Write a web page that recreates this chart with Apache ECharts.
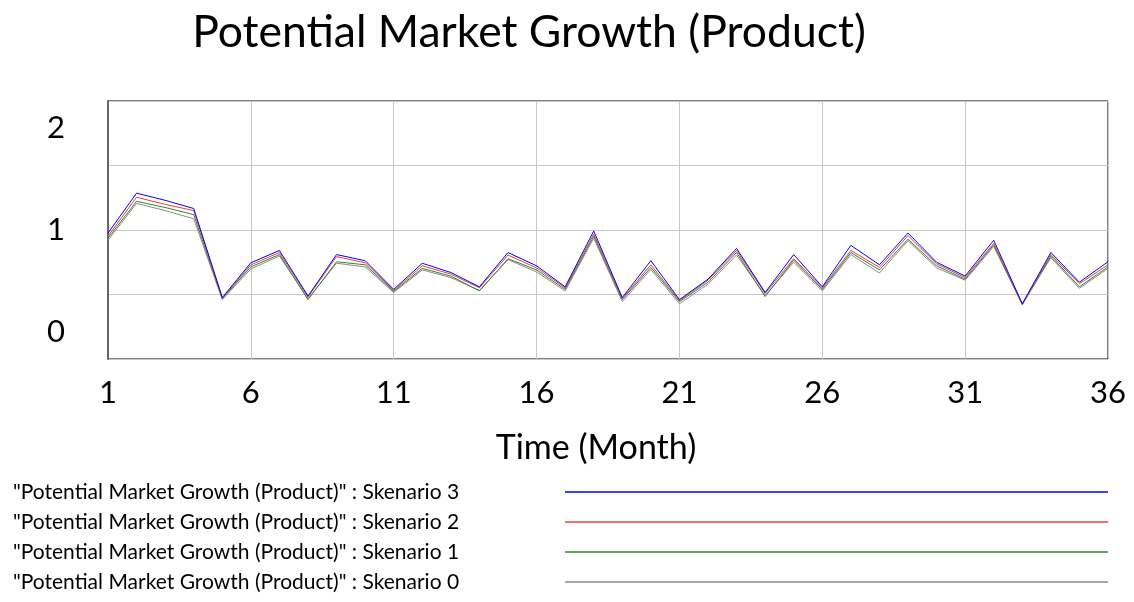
<!DOCTYPE html>
<html>
<head>
<meta charset="UTF-8">
<title>Potential Market Growth (Product)</title>
<script src="https://cdn.jsdelivr.net/npm/echarts@6/dist/echarts.min.js"></script>
<style>
  html, body { margin: 0; padding: 0; background: #fff; }
  #main { width: 1134px; height: 602px; }
</style>
</head>
<body>
<div id="main"></div>
<script>
// months 1..36
const months = Array.from({ length: 36 }, (_, i) => i + 1);

// values
const skenario3 = [0.97, 1.36, 1.29, 1.21, 0.34, 0.68, 0.80, 0.355, 0.76, 0.70, 0.42, 0.675, 0.585, 0.445, 0.78, 0.65, 0.445, 0.99, 0.34, 0.70, 0.32, 0.52, 0.82, 0.39, 0.76, 0.445, 0.85, 0.66, 0.97, 0.685, 0.55, 0.90, 0.28, 0.78, 0.49, 0.69];
const skenario2 = [0.94, 1.32, 1.25, 1.19, 0.335, 0.66, 0.78, 0.345, 0.74, 0.68, 0.41, 0.65, 0.57, 0.435, 0.755, 0.63, 0.435, 0.96, 0.33, 0.66, 0.31, 0.51, 0.80, 0.38, 0.72, 0.435, 0.80, 0.635, 0.945, 0.67, 0.535, 0.87, 0.275, 0.76, 0.475, 0.66];
const skenario1 = [0.92, 1.28, 1.22, 1.15, 0.33, 0.64, 0.76, 0.32, 0.69, 0.66, 0.40, 0.625, 0.55, 0.405, 0.72, 0.61, 0.42, 0.94, 0.32, 0.635, 0.30, 0.49, 0.78, 0.35, 0.705, 0.42, 0.78, 0.61, 0.91, 0.65, 0.52, 0.855, 0.27, 0.745, 0.445, 0.64];
const skenario0 = [0.90, 1.26, 1.19, 1.11, 0.32, 0.62, 0.745, 0.33, 0.675, 0.64, 0.39, 0.61, 0.535, 0.41, 0.71, 0.59, 0.405, 0.92, 0.30, 0.615, 0.28, 0.47, 0.755, 0.36, 0.685, 0.405, 0.76, 0.58, 0.895, 0.63, 0.51, 0.84, 0.275, 0.73, 0.43, 0.625];

const yLabels = [0, 1, 2];
const seriesNames = [
  '"Potential Market Growth (Product)" : Skenario 3',
  '"Potential Market Growth (Product)" : Skenario 2',
  '"Potential Market Growth (Product)" : Skenario 1',
  '"Potential Market Growth (Product)" : Skenario 0'
];

const font = 'Lato, "Open Sans", sans-serif';

function line(name, values, color) {
  return {
    name: name,
    type: 'line',
    symbol: 'none',
    data: months.map((m, i) => [m, values[i]]),
    lineStyle: { color: color, width: 1 },
    itemStyle: { color: color }
  };
}

const chart = echarts.init(document.getElementById('main'), null, { renderer: 'canvas' });
chart.setOption({
  animation: false,
  textStyle: { fontFamily: font },
  title: {
    text: 'Potential Market Growth (Product)',
    left: 524, top: 5, textAlign: 'center',
    textStyle: { fontFamily: font, fontSize: 44.5, fontWeight: 'normal', color: '#000' }
  },
  grid: {
    left: 108, right: 26, top: 101, bottom: 243,
    show: true, borderColor: '#000', borderWidth: 1
  },
  legend: {
    orient: 'vertical',
    left: 8, top: 476,
    align: 'right',
    itemWidth: 543, itemHeight: 1.5,
    itemGap: 8,
    icon: 'rect',
    data: seriesNames,
    // text sits left in a fixed-width box, line follows on the right
    formatter: function(name) { return '{t|' + name + '}'; },
    textStyle: {
      fontFamily: font, fontSize: 21, color: '#000', lineHeight: 22,
      rich: { t: { width: 547, align: 'left', fontFamily: font, fontSize: 21, color: '#000', lineHeight: 22 } }
    }
  },
  xAxis: {
    type: 'value',
    min: 1, max: 36, interval: 5,
    name: 'Time (Month)',
    nameLocation: 'middle',
    nameGap: 72,
    nameTextStyle: { fontFamily: font, fontSize: 34, color: '#000', padding: [0, 24, 0, 0] },
    axisLine: { show: false },
    axisTick: { show: false },
    axisLabel: { fontFamily: font, fontSize: 31, color: '#000', margin: 18 },
    splitLine: { show: true, lineStyle: { color: '#c8c8c8', width: 1 } }
  },
  yAxis: {
    type: 'value',
    min: -0.26, max: 2.26, interval: 0.63,
    axisLine: { show: true, lineStyle: { color: '#666', width: 2 } },
    axisTick: { show: false },
    axisLabel: { customValues: yLabels, fontFamily: font, fontSize: 31, color: '#000', margin: 43 },
    splitLine: { show: true, lineStyle: { color: '#c8c8c8', width: 1 } }
  },
  series: [
    line(seriesNames[3], skenario0, '#8c8c8c'),
    line(seriesNames[2], skenario1, '#2e862e'),
    line(seriesNames[1], skenario2, '#f03c3c'),
    line(seriesNames[0], skenario3, '#0000ff')
  ]
});
</script>
</body>
</html>
